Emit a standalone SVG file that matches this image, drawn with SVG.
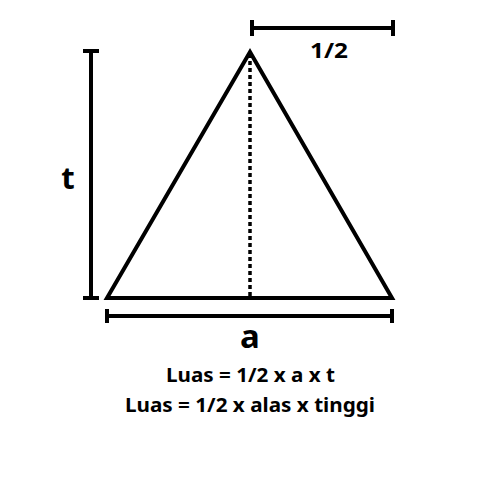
<svg xmlns="http://www.w3.org/2000/svg" width="500" height="500" viewBox="0 0 500 500">
<style>
.ln{stroke:#000;stroke-width:4;fill:none;stroke-linecap:butt}
.tx{font-family:"Noto Sans","Open Sans",sans-serif;font-weight:bold;fill:#000}
</style>
<rect width="500" height="500" fill="#fff"/>
<g id="triangle">
<polygon points="250,52 107,298 392,298" class="ln" stroke-linejoin="miter"/>
<line x1="250" y1="54" x2="250" y2="298" stroke="#000" stroke-width="3.5" stroke-dasharray="4,3"/>
</g>
<g id="dim-top">
<line class="ln" x1="252" y1="28" x2="393" y2="28"/>
<line class="ln" x1="252" y1="20" x2="252" y2="36"/>
<line class="ln" x1="393" y1="20" x2="393" y2="36"/>
<text class="tx" x="329" y="58" font-size="22" text-anchor="middle" textLength="38" lengthAdjust="spacingAndGlyphs">1/2</text>
</g>
<g id="dim-left">
<line class="ln" x1="91" y1="51" x2="91" y2="298"/>
<line class="ln" x1="83" y1="51" x2="99" y2="51"/>
<line class="ln" x1="83" y1="298" x2="99" y2="298"/>
<text class="tx" x="68" y="189" font-size="31" text-anchor="middle">t</text>
</g>
<g id="dim-bottom">
<line class="ln" x1="107" y1="316" x2="392" y2="316"/>
<line class="ln" x1="107" y1="309" x2="107" y2="323"/>
<line class="ln" x1="392" y1="309" x2="392" y2="323"/>
<text class="tx" x="250" y="348" font-size="33" text-anchor="middle">a</text>
</g>
<g id="formula">
<text class="tx" x="250.5" y="382" font-size="20" text-anchor="middle" textLength="169" lengthAdjust="spacingAndGlyphs">Luas = 1/2 x a x t</text>
<text class="tx" x="250" y="412" font-size="20" text-anchor="middle" textLength="250" lengthAdjust="spacingAndGlyphs">Luas = 1/2 x alas x tinggi</text>
</g>
</svg>
